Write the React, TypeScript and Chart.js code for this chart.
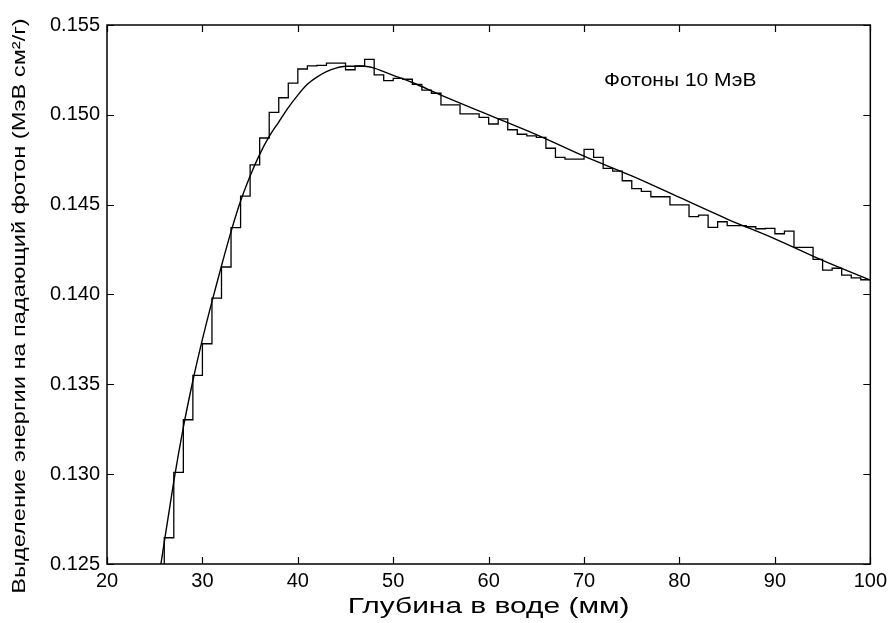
import React, { useEffect, useRef } from "react";
import { Chart, registerables } from "chart.js";

Chart.register(...registerables);

// Histogram (Monte-Carlo) bins: left edges in mm and values
const binEdges = [
  25, 26, 27, 28, 29, 30, 31, 32, 33, 34, 35, 36, 37, 38, 39, 40, 41, 42, 43, 44,
  45, 46, 47, 48, 49, 50, 51, 52, 53, 54, 55, 56, 57, 58, 59, 60, 61, 62, 63, 64,
  65, 66, 67, 68, 69, 70, 71, 72, 73, 74, 75, 76, 77, 78, 79, 80, 81, 82, 83, 84,
  85, 86, 87, 88, 89, 90, 91, 92, 93, 94, 95, 96, 97, 98, 99, 100,
];
const binValues = [
  0.1225, 0.12646, 0.1301, 0.13303, 0.1355, 0.13726, 0.1398, 0.14153, 0.14372, 0.14547,
  0.14722, 0.14871, 0.15014, 0.15095, 0.15176, 0.15255, 0.15273, 0.15275, 0.15288, 0.15288,
  0.15251, 0.15272, 0.15309, 0.15222, 0.1519, 0.15203, 0.15198, 0.1517, 0.15138, 0.1512,
  0.15055, 0.15055, 0.15005, 0.15005, 0.14986, 0.14949, 0.14977, 0.14917, 0.14892, 0.14883,
  0.14874, 0.14814, 0.14763, 0.14754, 0.14754, 0.14808, 0.14763, 0.14702, 0.14687, 0.14633,
  0.14589, 0.14574, 0.14544, 0.14544, 0.14499, 0.14499, 0.14433, 0.14442, 0.14374, 0.14405,
  0.14383, 0.14383, 0.14377, 0.14366, 0.14368, 0.14338, 0.14353, 0.14262, 0.14262, 0.14196,
  0.14136, 0.14146, 0.14108, 0.14093, 0.14082,
];

// Smooth fitted curve
const curveX = [
  25.65, 27, 28, 29, 30, 31, 32, 33, 34, 35, 36, 37, 38, 39, 40, 41, 42, 43, 44, 45,
  46, 47, 48, 49, 50, 52, 55, 60, 65, 70, 75, 80, 85, 90, 95, 100,
];
const curveY = [
  0.125, 0.1296, 0.1326, 0.1352, 0.1375, 0.1396, 0.1416, 0.1435, 0.1452, 0.1466,
  0.1478, 0.1488, 0.1496, 0.1504, 0.1511, 0.1517, 0.1521, 0.1524, 0.1526, 0.1527,
  0.1527, 0.1527, 0.1526, 0.1524, 0.1522, 0.1518, 0.1511, 0.15, 0.1489, 0.1477,
  0.1466, 0.1454, 0.1442, 0.1431, 0.1419, 0.1408,
];

const xTicks = [20, 30, 40, 50, 60, 70, 80, 90, 100];
const yTicks = [0.125, 0.13, 0.135, 0.14, 0.145, 0.15, 0.155];

const xTitle = "Глубина в воде (мм)";
const yTitle = "Выделение энергии на падающий фотон (МэВ см²/г)";
const labelText = "Фотоны 10 МэВ";
const labelPos = { x: 72.1, y: 0.1519 };

const FONT = "'Liberation Sans', Arial, Helvetica, sans-serif";

// text drawn with a width factor along its writing direction
function drawText(
  ctx: CanvasRenderingContext2D,
  text: string,
  x: number,
  y: number,
  size: number,
  widthFactor: number,
  align: CanvasTextAlign,
  rotate: boolean
) {
  ctx.save();
  ctx.translate(x, y);
  if (rotate) ctx.rotate(-Math.PI / 2);
  ctx.scale(widthFactor, 1);
  ctx.font = `${size}px ${FONT}`;
  ctx.fillStyle = "#000";
  ctx.textAlign = align;
  ctx.textBaseline = "middle";
  ctx.fillText(text, 0, 0);
  ctx.restore();
}

export default function App() {
  const ref = useRef<HTMLCanvasElement | null>(null);

  useEffect(() => {
    const canvas = ref.current;
    if (!canvas) return;

    const histData = binEdges.map((x, i) => ({
      x,
      y: binValues[Math.min(i, binValues.length - 1)],
    }));
    const curveData = curveX.map((x, i) => ({ x, y: curveY[i] }));

    const framePlugin = {
      id: "frame",
      afterDatasetsDraw(chart: any) {
        const { ctx, chartArea, scales } = chart;
        const { left, right, top, bottom } = chartArea;
        const xs = scales.x;
        const ys = scales.y;
        const tl = 7;
        ctx.save();
        ctx.strokeStyle = "#000";
        ctx.lineWidth = 1.5;
        ctx.beginPath();
        ctx.rect(left, top, right - left, bottom - top);
        ctx.stroke();
        ctx.lineWidth = 1.2;
        ctx.beginPath();
        xs.ticks.forEach((t: any) => {
          const px = Math.round(xs.getPixelForValue(t.value)) + 0.5;
          ctx.moveTo(px, bottom);
          ctx.lineTo(px, bottom - tl);
          ctx.moveTo(px, top);
          ctx.lineTo(px, top + tl);
        });
        ys.ticks.forEach((t: any) => {
          const py = Math.round(ys.getPixelForValue(t.value)) + 0.5;
          ctx.moveTo(left, py);
          ctx.lineTo(left + tl, py);
          ctx.moveTo(right, py);
          ctx.lineTo(right - tl, py);
        });
        ctx.stroke();
        ctx.restore();

        // annotation inside the plot
        drawText(
          ctx,
          labelText,
          xs.getPixelForValue(labelPos.x),
          ys.getPixelForValue(labelPos.y),
          17.5,
          1.2,
          "left",
          false
        );
        // axis titles
        drawText(ctx, xTitle, (left + right) / 2, 607, 22, 1.36, "center", false);
        drawText(ctx, yTitle, 20, 306, 19, 1.24, "center", true);
      },
    };

    const chart = new Chart(canvas, {
      type: "line",
      data: {
        datasets: [
          {
            label: "hist",
            data: histData,
            stepped: "before",
            borderColor: "#000",
            borderWidth: 1.3,
            pointRadius: 0,
            fill: false,
          },
          {
            label: "fit",
            data: curveData,
            borderColor: "#000",
            borderWidth: 1.4,
            pointRadius: 0,
            cubicInterpolationMode: "monotone",
            fill: false,
          },
        ],
      },
      options: {
        responsive: false,
        animation: false,
        devicePixelRatio: 1,
        layout: { padding: { top: 25, right: 21, left: 0, bottom: 0 } },
        plugins: {
          legend: { display: false },
          tooltip: { enabled: false },
        },
        scales: {
          x: {
            type: "linear",
            min: 20,
            max: 100,
            afterBuildTicks: (s: any) => {
              s.ticks = xTicks.map((v) => ({ value: v }));
            },
            afterFit: (s: any) => {
              s.height = 59;
            },
            grid: { display: false, drawTicks: false },
            border: { display: false },
            ticks: {
              color: "#000",
              font: { family: FONT, size: 20 },
              padding: 5,
              maxRotation: 0,
              autoSkip: false,
              callback: (v: any) => String(v),
            },
            title: { display: false },
          },
          y: {
            type: "linear",
            min: 0.125,
            max: 0.155,
            afterBuildTicks: (s: any) => {
              s.ticks = yTicks.map((v) => ({ value: v }));
            },
            afterFit: (s: any) => {
              s.width = 107;
            },
            grid: { display: false, drawTicks: false },
            border: { display: false },
            ticks: {
              color: "#000",
              font: { family: FONT, size: 20 },
              padding: 7,
              autoSkip: false,
              callback: (v: any) => Number(v).toFixed(3),
            },
            title: { display: false },
          },
        },
      },
      plugins: [framePlugin],
    } as any);

    return () => chart.destroy();
  }, []);

  return (
    <div style={{ position: "fixed", left: 0, top: 0, width: 892, height: 623, background: "#fff" }}>
      <canvas ref={ref} width={892} height={623} style={{ display: "block" }} />
    </div>
  );
}
